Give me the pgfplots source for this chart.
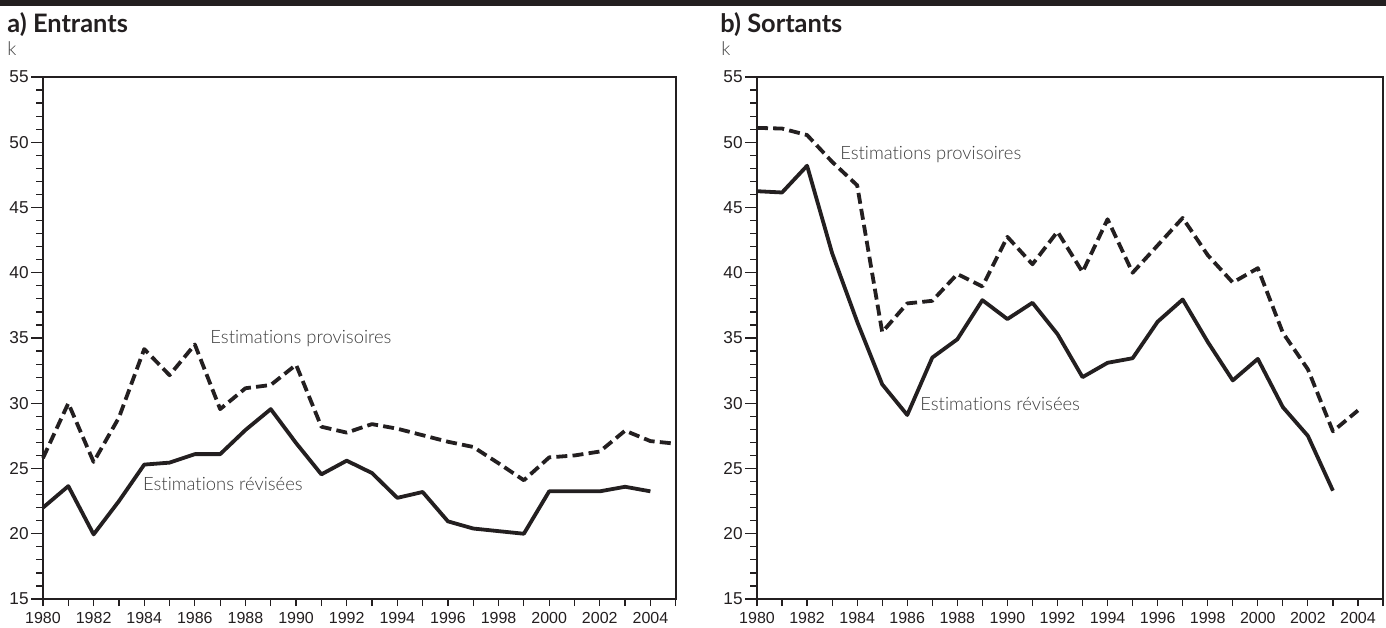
\documentclass[border=0pt]{standalone}
\usepackage{fontspec}
\setmainfont{Liberation Sans}
\newfontfamily\titlefont{Lato}
\newfontfamily\lightfont{Lato Light}[Ligatures=NoCommon]
\usepackage{pgfplots}
\usepackage{pgfplotstable}
\pgfplotsset{compat=1.18}

\definecolor{ink}{RGB}{35,31,32}
\definecolor{note}{RGB}{60,60,60}

% Entrants (thousands)
\pgfplotstableread{
year rev
1980 22.0
1981 23.65
1982 19.95
1983 22.5
1984 25.3
1985 25.45
1986 26.1
1987 26.1
1988 27.95
1989 29.55
1990 26.95
1991 24.55
1992 25.6
1993 24.65
1994 22.75
1995 23.2
1996 20.95
1997 20.4
1998 20.2
1999 20.0
2000 23.25
2001 23.25
2002 23.25
2003 23.6
2004 23.25
}\entrev
\pgfplotstableread{
year prov
1980 25.8
1981 30.0
1982 25.5
1983 28.9
1984 34.15
1985 32.15
1986 34.5
1987 29.55
1988 31.15
1989 31.4
1990 32.95
1991 28.2
1992 27.75
1993 28.4
1994 28.05
1995 27.55
1996 27.05
1997 26.65
1998 25.4
1999 24.1
2000 25.85
2001 26.0
2002 26.3
2003 27.9
2004 27.1
2005 26.9
}\entprov

% Sortants (thousands)
\pgfplotstableread{
year rev
1980 46.25
1981 46.15
1982 48.2
1983 41.5
1984 36.25
1985 31.45
1986 29.1
1987 33.5
1988 34.9
1989 37.9
1990 36.45
1991 37.7
1992 35.3
1993 32.0
1994 33.1
1995 33.45
1996 36.25
1997 37.95
1998 34.7
1999 31.75
2000 33.4
2001 29.7
2002 27.5
2003 23.3
}\sortrev
\pgfplotstableread{
year prov
1980 51.1
1981 51.05
1982 50.55
1983 48.5
1984 46.7
1985 35.45
1986 37.65
1987 37.85
1988 39.9
1989 38.95
1990 42.75
1991 40.65
1992 43.15
1993 40.05
1994 44.1
1995 40.0
1996 42.1
1997 44.2
1998 41.35
1999 39.25
2000 40.35
2001 35.4
2002 32.6
2003 27.85
2004 29.45
}\sortprov

\pgfplotsset{
  panel/.style={
    scale only axis, anchor=south west, height=261pt,
    xmin=1980, xmax=2005, ymin=15, ymax=55,
    xtick={1980,1982,...,2004},
    minor xtick={1980,1981,...,2005},
    ytick={15,20,...,55},
    minor y tick num=4,
    xtick pos=bottom, ytick pos=left,
    tick align=outside,
    major tick length=6pt, minor tick length=3.5pt,
    major x tick style={draw=none},
    every tick/.style={ink, line width=0.6pt},
    axis line style={ink, line width=0.9pt},
    /pgf/number format/assume math mode=true,
    xticklabel={\pgfmathprintnumber[1000 sep={}]{\tick}},
    tick label style={text=ink},
    xticklabel style={inner sep=0pt, yshift=-0.5pt,
      font=\fontsize{8}{8.5}\selectfont},
    yticklabel style={inner sep=1pt, font=\fontsize{8.6}{9}\selectfont},
    clip=false,
  },
  rev/.style={ink, line width=1.9pt, line join=round},
  prov/.style={ink, line width=1.9pt, line join=round, dash pattern=on 5.5pt off 2.6pt},
}
\tikzset{
  tag/.style={anchor=base west, inner sep=0pt, text=note,
    font=\lightfont\fontsize{9.2}{10}\selectfont},
  heading/.style={anchor=base west, inner sep=0pt, text=ink,
    font=\titlefont\bfseries\fontsize{12.7}{13}\selectfont},
  unit/.style={anchor=base west, inner sep=0pt, text=note,
    font=\lightfont\fontsize{9.5}{10}\selectfont},
}

\begin{document}
\begin{tikzpicture}
\path[use as bounding box] (0,0) rectangle (693pt,313.5pt);
\fill[ink] (0,310.5pt) rectangle (693pt,313.5pt);

\node[heading] at (3.5pt,297pt) {a) Entrants};
\node[unit] at (3.5pt,285.5pt) {k};
\node[heading] at (360pt,297pt) {b) Sortants};
\node[unit] at (360.5pt,285.5pt) {k};

\begin{axis}[panel, at={(21.5pt,14pt)}, width=316.35pt]
  \addplot[prov] table[x=year, y=prov] {\entprov};
  \addplot[rev] table[x=year, y=rev] {\entrev};
  \node[tag] at (axis cs:1986.6,34.6) {Estimations provisoires};
  \node[tag] at (axis cs:1983.94,23.35) {Estimations révisées};
\end{axis}

\begin{axis}[panel, at={(378.5pt,14pt)}, width=313pt]
  \addplot[prov] table[x=year, y=prov] {\sortprov};
  \addplot[rev] table[x=year, y=rev] {\sortrev};
  \node[tag] at (axis cs:1983.31,48.64) {Estimations provisoires};
  \node[tag] at (axis cs:1986.51,29.48) {Estimations révisées};
\end{axis}
\end{tikzpicture}
\end{document}
